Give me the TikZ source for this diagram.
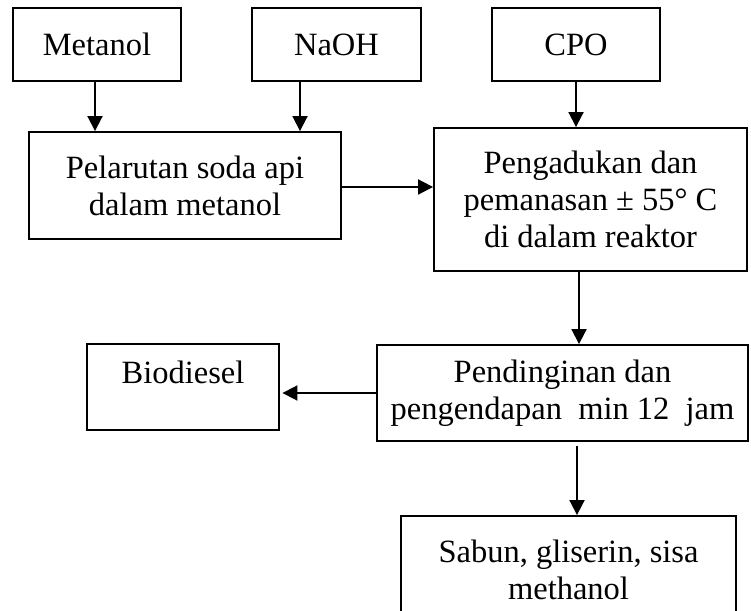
\documentclass[tikz,border=0pt]{standalone}
\usepackage{fontspec}
\setmainfont{Liberation Serif}
\usetikzlibrary{arrows.meta,calc}
\begin{document}
\begin{tikzpicture}[x=0.4pt,y=-0.4pt,
  font=\fontsize{13pt}{14.8pt}\selectfont,
  box/.style={draw,line width=0.75pt,inner sep=0pt,align=center},
  flow/.style={line width=0.75pt,-{Triangle[length=6pt,width=6pt]}}]
\clip (0,0) rectangle (751,611);
% feed boxes
\node[box,minimum width=67.2pt,minimum height=29.2pt] (metanol) at (97,44.5) {Metanol};
\node[box,minimum width=67.6pt,minimum height=29.2pt] (naoh) at (336.5,44.5) {NaOH};
\node[box,minimum width=67.2pt,minimum height=29.2pt] (cpo) at (576,44.5) {CPO};
% process steps
\node[box,minimum width=124.8pt,minimum height=42.8pt] (larut) at (185,185.5) {Pelarutan soda api\\dalam metanol};
\node[box,minimum width=125.2pt,minimum height=57.2pt] (aduk) at (590.5,199.5) {Pengadukan dan\\pemanasan ± 55° C\\di dalam reaktor};
\node[box,minimum width=148.4pt,minimum height=38.4pt] (dingin) at (562.5,393) {Pendinginan dan\\pengendapan\ \ min 12\ \ jam};
% products
\node[box,minimum width=76.8pt,minimum height=34.4pt,text height=9.5pt,text depth=12.7pt] (bio) at (183,387) {Biodiesel};
\node[box,minimum width=134pt,minimum height=43.2pt] (sabun) at (568.5,570) {Sabun, gliserin, sisa\\methanol};
% start points of the connectors
\coordinate (m0) at ($(metanol.south)+(-2,0)$);
\coordinate (n0) at ($(naoh.south)+(-36.5,0)$);
\coordinate (l0) at ($(larut.east)+(0,1.5)$);
\coordinate (a0) at ($(aduk.south)+(-11.5,0)$);
\coordinate (d0) at ($(dingin.south)+(14.5,4)$);
% connectors
\draw[flow] (m0) -- (m0 |- larut.north);
\draw[flow] (n0) -- (n0 |- larut.north);
\draw[flow] (cpo.south) -- (cpo.south |- aduk.north);
\draw[flow] (l0) -- (l0 -| aduk.west);
\draw[flow] (a0) -- (a0 |- dingin.north);
\draw[flow,shorten >=1pt] (dingin.west) -- (dingin.west -| bio.east);
\draw[flow] (d0) -- (d0 |- sabun.north);
\end{tikzpicture}
\end{document}
